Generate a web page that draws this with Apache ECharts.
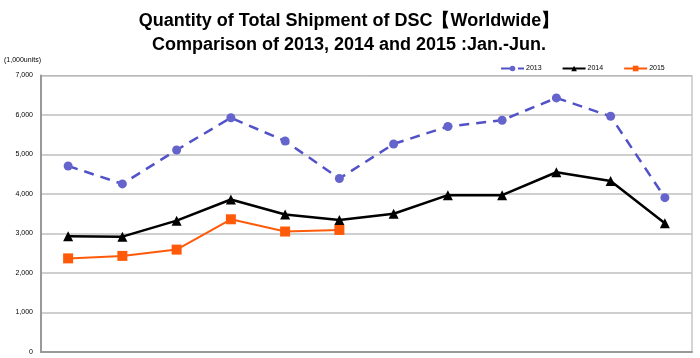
<!DOCTYPE html>
<html>
<head>
<meta charset="utf-8">
<script src="https://cdn.jsdelivr.net/npm/echarts@6/dist/echarts.min.js"></script>
<style>
html,body{margin:0;padding:0;background:#fff;}
#c{width:700px;height:358px;}
</style>
</head>
<body>
<div id="c"></div>
<script>
const categories = ['Jan','Feb','Mar','Apr','May','Jun','Jul','Aug','Sep','Oct','Nov','Dec'];
const s2013 = [4710, 4255, 5115, 5930, 5342, 4392, 5267, 5708, 5867, 6433, 5967, 3908];
const s2014 = [2933, 2920, 3325, 3860, 3480, 3340, 3500, 3970, 3970, 4550, 4330, 3260];
const s2015 = [2370, 2433, 2592, 3360, 3050, 3090];
const yTicks = [0, 1000, 2000, 3000, 4000, 5000, 6000, 7000];
const titleLines = ['Quantity of Total Shipment of DSC【Worldwide】', 'Comparison of 2013, 2014 and 2015 :Jan.-Jun.'];
const unitLabel = '(1,000units)';

const chart = echarts.init(document.getElementById('c'));
chart.setOption({
  animation: false,
  title: {
    text: titleLines.join('\n'),
    left: 344, textAlign: 'center', top: 4,
    textStyle: { fontFamily: 'Liberation Sans', fontWeight: 'bold', fontSize: 18, lineHeight: 24, color: '#000' }
  },
  graphic: [{
    type: 'text', left: 4, top: 57,
    style: { text: unitLabel, fontSize: 7, fontFamily: 'Liberation Sans', fill: '#000' }
  }],
  legend: {
    left: 495, top: 60, itemGap: 20, itemWidth: 23, itemHeight: 7,
    textStyle: { fontSize: 7, fontFamily: 'Liberation Sans', color: '#000', padding: [0,0,0,-3] },
    data: ['2013', '2014', '2015']
  },
  grid: { left: 41, right: 8, top: 75.5, bottom: 6, show: true, borderColor: '#aaa', borderWidth: 1 },
  xAxis: {
    type: 'category', data: categories, boundaryGap: true,
    axisLine: { lineStyle: { color: '#999', width: 2 } },
    axisTick: { show: false }, axisLabel: { show: false }
  },
  yAxis: {
    type: 'value', min: yTicks[0], max: yTicks[yTicks.length - 1], interval: 1000,
    axisLine: { show: true, lineStyle: { color: '#999', width: 2 } },
    axisTick: { show: false },
    splitLine: { lineStyle: { color: '#bfbfbf', width: 1.5 } },
    axisLabel: {
      fontSize: 7, fontFamily: 'Liberation Sans', color: '#000', margin: 8,
      formatter: v => v.toLocaleString('en-US')
    }
  },
  series: [
    { name: '2013', type: 'line', data: s2013, symbol: 'circle', symbolSize: 9,
      lineStyle: { color: '#5252c8', width: 2.5, type: [10, 7] },
      itemStyle: { color: '#6464cc' } },
    { name: '2014', type: 'line', data: s2014, symbol: 'triangle', symbolSize: 10,
      lineStyle: { color: '#000', width: 2.5 }, itemStyle: { color: '#000' } },
    { name: '2015', type: 'line', data: s2015, symbol: 'rect', symbolSize: 10,
      lineStyle: { color: '#ff5a0a', width: 2 }, itemStyle: { color: '#ff5a0a' } }
  ]
});
</script>
</body>
</html>
